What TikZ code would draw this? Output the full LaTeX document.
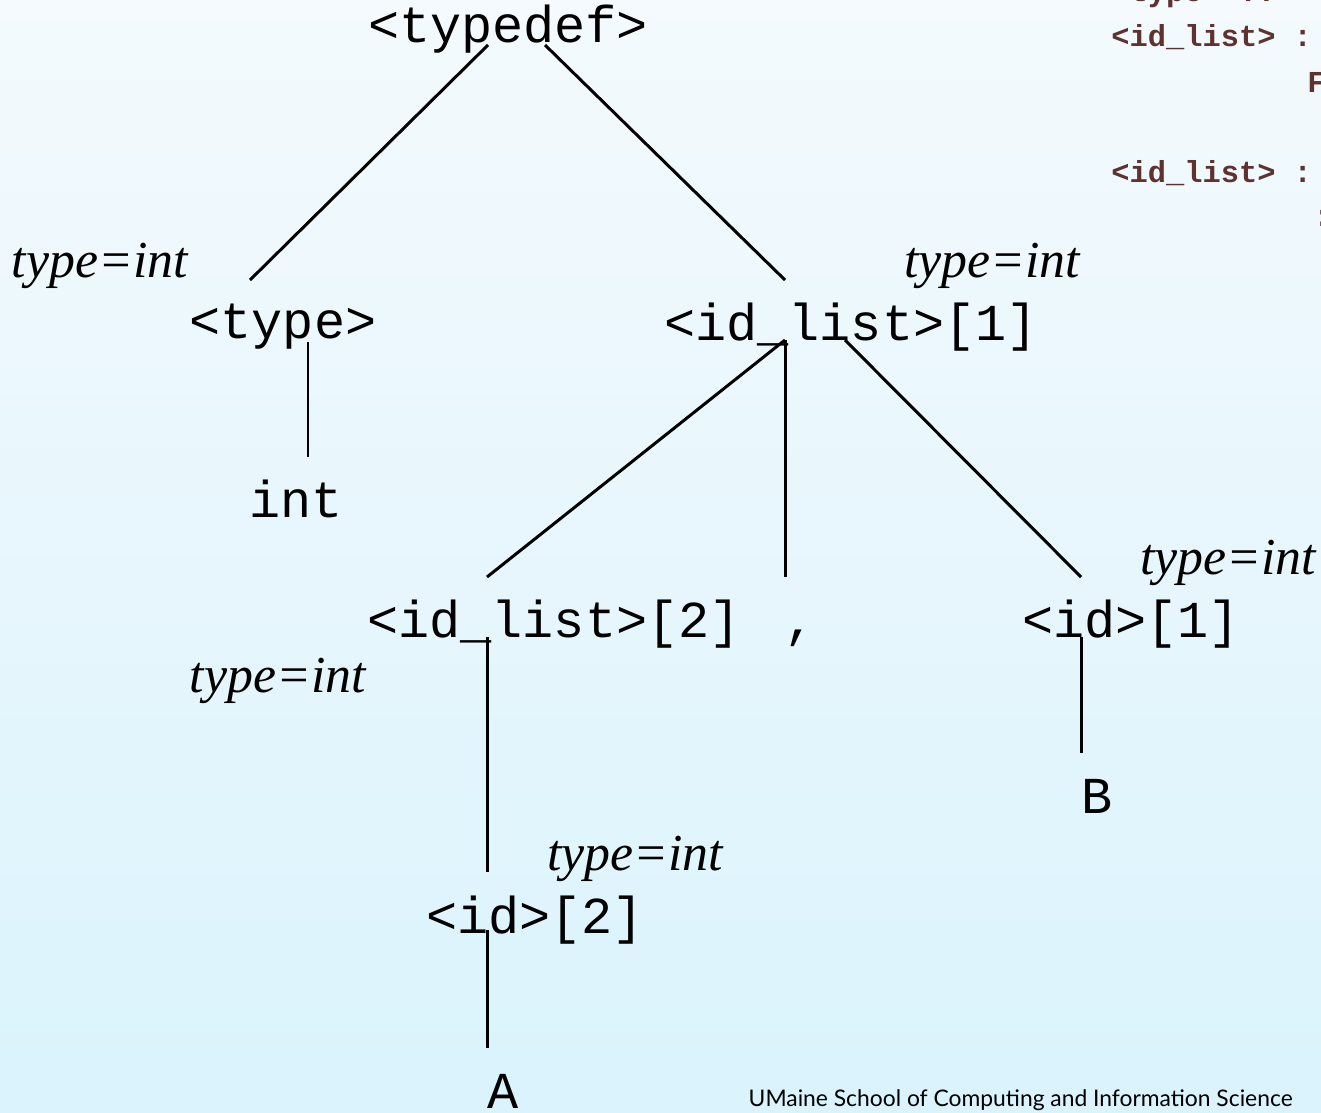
\documentclass[tikz,border=0pt]{standalone}
\usepackage{fontspec}
\setmainfont{Liberation Serif}
\setmonofont{Liberation Mono}
\newfontfamily\footfont{Lato}
\definecolor{codebrown}{RGB}{94,50,45}
\definecolor{bgtop}{RGB}{244,250,253}
\definecolor{bgbot}{RGB}{218,243,252}

\begin{document}
\begin{tikzpicture}[
        x=0.02cm, y=-0.02cm,
        sym/.style={font=\ttfamily\fontsize{29.5}{34}\selectfont, inner sep=0, anchor=base},
        attr/.style={font=\itshape\fontsize{29.5}{34}\selectfont, inner sep=0, anchor=base},
        code/.style={font=\ttfamily\bfseries\fontsize{17.3}{20}\selectfont, text=codebrown, inner sep=0, anchor=base west},
        edge/.style={line width=1.7pt}
    ]

    % ---------- background ----------
    \useasboundingbox (0,0) rectangle (1321,1112);
    \shade[top color=bgtop, bottom color=bgbot] (0,0) rectangle (1321,1112);
    \clip (0,0) rectangle (1321,1112);

    % ---------- grammar (cut off at the right) ----------
    \node[code] (g0) at (1111,2)   {<type> ::};
    \node[code] (g1) at (1111,46)  {<id\_list> :};
    \node[code] (g2) at (1307,92)  {F};
    \node[code] (g3) at (1111,182) {<id\_list> :};
    \node[code] (g4) at (1313,226) {:};

    % ---------- parse tree ----------
    \node[sym] (typedef) at (508,42)   {<typedef>};
    \node[sym] (type)    at (283,338)  {<type>};
    \node[sym] (int)     at (296,517)  {int};
    \node[sym] (list1)   at (851,340)  {<id\_list>[1]};
    \node[sym] (list2)   at (554,637)  {<id\_list>[2]};
    \node[sym] (comma)   at (800,637)  {,};
    \node[sym] (id1)     at (1131,637) {<id>[1]};
    \node[sym] (idB)     at (1097,813) {B};
    \node[sym] (id2)     at (535,933)  {<id>[2]};
    \node[sym] (idA)     at (503,1108) {A};

    % ---------- edges ----------
    \draw[edge] ([shift={(-20,3)}]typedef.base) -- ([shift={(-33,-58)}]type.base);
    \draw[edge] ([shift={(37,3)}]typedef.base)  -- ([shift={(-66,-60)}]list1.base);
    \draw[edge] ([shift={(25,4)}]type.base)     -- ([shift={(12,-60)}]int.base);
    \draw[edge] ([shift={(-66,0)}]list1.base)   -- ([shift={(-67,-60)}]list2.base);
    \draw[edge] ([shift={(-66,0)}]list1.base)   -- ([shift={(-15,-60)}]comma.base);
    \draw[edge] ([shift={(-6,0)}]list1.base)    -- ([shift={(-50,-60)}]id1.base);
    \draw[edge] ([shift={(-67,0)}]list2.base)   -- ([shift={(-48,-61)}]id2.base);
    \draw[edge] ([shift={(-50,0)}]id1.base)     -- ([shift={(-16,-60)}]idB.base);
    \draw[edge] ([shift={(-48,-3)}]id2.base)    -- ([shift={(-16,-60)}]idA.base);

    % ---------- attributes ----------
    \node[attr] (a1) at (100,277)  {type=int};
    \node[attr] (a2) at (992,277)  {type=int};
    \node[attr] (a3) at (1228,574) {type=int};
    \node[attr] (a4) at (278,692)  {type=int};
    \node[attr] (a5) at (635,870)  {type=int};

    % ---------- footer ----------
    \node[font=\footfont\fontsize{13}{15}\selectfont, inner sep=0, anchor=base east] (foot) at (1293,1106)
        {UMaine School of Computing and Information Science};

\end{tikzpicture}
\end{document}
